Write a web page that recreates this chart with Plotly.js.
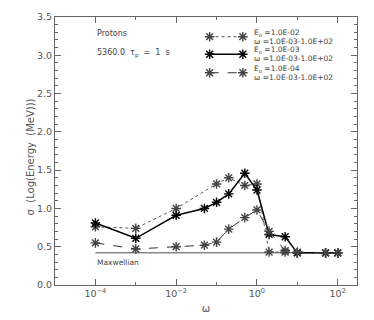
<!DOCTYPE html>
<html><head><meta charset="utf-8">
<script src="https://cdn.plot.ly/plotly-3.0.1.min.js"></script>
<style>html,body{margin:0;padding:0;background:#fff}#chart{width:374px;height:320px}</style>
</head><body><div id="chart"></div>
<script>
// Data
const omegaSolid  = [1e-4, 1e-3, 1e-2, 0.05, 0.1, 0.2, 0.5, 1, 2, 5, 10, 50, 100];
const sigmaE3     = [0.81, 0.61, 0.91, 1.00, 1.08, 1.19, 1.46, 1.24, 0.66, 0.63, 0.42, 0.42, 0.42];
const omegaDotted = [1e-4, 1e-3, 1e-2, 0.1, 0.2, 0.5, 1, 2, 5, 10, 50, 100];
const sigmaE2     = [0.76, 0.74, 1.00, 1.32, 1.40, 1.30, 1.32, 0.43, 0.43, 0.42, 0.42, 0.42];
const omegaDashed = [1e-4, 1e-3, 1e-2, 0.05, 0.1, 0.2, 0.5, 1, 2, 5, 10, 50, 100];
const sigmaE4     = [0.55, 0.47, 0.50, 0.52, 0.56, 0.73, 0.88, 0.98, 0.70, 0.45, 0.43, 0.42, 0.42];
const maxwellX    = [1e-4, 100];
const maxwellY    = [0.42, 0.42];
const legendLabels = [
  ["E<sub>o</sub> =1.0E-02", "ω =1.0E-03-1.0E+02"],
  ["E<sub>o</sub> =1.0E-03", "ω =1.0E-03-1.0E+02"],
  ["E<sub>o</sub> =1.0E-04", "ω =1.0E-03-1.0E+02"]
];
const xTickVals = [1e-4, 1e-2, 1, 100];
const xTickText = ["10<sup>−4</sup>", "10<sup>−2</sup>", "10<sup>0</sup>", "10<sup>2</sup>"];
const xMinorVals = [1e-5, 1e-3, 1e-1, 10];

const F = "DejaVu Sans";
const styles = [
  {dash: 'dot',  color: '#555', mcolor: '#444', width: 1},
  {dash: 'solid',color: '#000', mcolor: '#000', width: 1.5},
  {dash: 'dash', color: '#333', mcolor: '#444', width: 1}
];
function mk(c){return {symbol:'asterisk-open', size:8, line:{color:c, width:1.4}, color:c};}

const traces = [
  {x: maxwellX, y: maxwellY, mode:'lines', line:{color:'#888', width:1.5}, hoverinfo:'skip'},
  {x: omegaDotted, y: sigmaE2, mode:'lines+markers', line:{color:styles[0].color, dash:'dot', width:1}, marker:mk(styles[0].mcolor)},
  {x: omegaSolid, y: sigmaE3, mode:'lines+markers', line:{color:styles[1].color, width:1.5}, marker:mk(styles[1].mcolor)},
  {x: omegaDashed, y: sigmaE4, mode:'lines+markers', line:{color:styles[2].color, dash:'dash', width:1}, marker:mk(styles[2].mcolor)}
];

// manual legend samples (overlay axes in unit coordinates)
const legRowsY = [0.9265, 0.861, 0.792];
const legX = [0.512, 0.622];
const annotations = [];
const PX = 1/268;
legRowsY.forEach((yy, i) => {
  const s = styles[i];
  traces.push({x: legX, y: [yy, yy], xaxis:'x2', yaxis:'y2', mode:'lines+markers',
    line:{color:s.color, dash:s.dash, width:s.width}, marker:mk(s.mcolor), hoverinfo:'skip'});
  annotations.push({xref:'paper', yref:'paper', x:0.652, y:yy+3.9*PX, xanchor:'left', yanchor:'middle',
    text:legendLabels[i][0], showarrow:false, font:{family:F, size:7.5, color:'#444'}});
  annotations.push({xref:'paper', yref:'paper', x:0.652, y:yy-4.6*PX, xanchor:'left', yanchor:'middle',
    text:legendLabels[i][1], showarrow:false, font:{family:F, size:7.5, color:'#444'}});
});
annotations.push({xref:'x', yref:'paper', x:-4, y:0.9366, xanchor:'left', yanchor:'middle',
  text:'Protons', showarrow:false, font:{family:F, size:8, color:'#444'}});
annotations.push({xref:'x', yref:'paper', x:-4, y:0.8646, xanchor:'left', yanchor:'middle',
  text:'5360.0  τ<sub>p</sub>  =  1  s', showarrow:false, font:{family:F, size:8, color:'#444'}});
annotations.push({xref:'x', yref:'paper', x:-4, y:0.0858, xanchor:'left', yanchor:'middle',
  text:'Maxwellian', showarrow:false, font:{family:F, size:7.5, color:'#444'}});
annotations.push({xref:'paper', yref:'paper', x:-0.081, y:0.478, xanchor:'center', yanchor:'middle',
  textangle:-90, text:'σ  (Log(Energy  (MeV)))', showarrow:false, font:{family:F, size:10, color:'#555'}});

const layout = {
  width:374, height:320, showlegend:false,
  margin:{l:54.5, r:17, t:17, b:35},
  paper_bgcolor:'#fff', plot_bgcolor:'#fff',
  font:{family:F, size:10, color:'#555'},
  xaxis:{type:'log', range:[-5, Math.log10(300)], tickmode:'array', tickvals:xTickVals, ticktext:xTickText,
    ticks:'inside', ticklen:6, tickcolor:'#666', showline:true, linecolor:'#666', linewidth:1, mirror:'ticks',
    showgrid:false, zeroline:false, tickfont:{family:F, size:9.5, color:'#555'},
    minor:{tickmode:'array', tickvals:xMinorVals, ticks:'inside', ticklen:3, tickcolor:'#666', showgrid:false},
    title:{text:'ω', font:{family:F, size:10, color:'#555'}, standoff:6}},
  yaxis:{range:[0, 3.5], dtick:0.5, tickformat:'.1f', ticks:'inside', ticklen:6, tickcolor:'#666',
    showline:true, linecolor:'#666', linewidth:1, mirror:'ticks', showgrid:false, zeroline:false,
    tickfont:{family:F, size:9.5, color:'#555'},
    minor:{dtick:0.1, ticks:'inside', ticklen:3, tickcolor:'#666', showgrid:false}},
  xaxis2:{overlaying:'x', range:[0,1], visible:false, fixedrange:true},
  yaxis2:{overlaying:'y', range:[0,1], visible:false, fixedrange:true},
  annotations: annotations
};
Plotly.newPlot('chart', traces, layout, {staticPlot:true, displayModeBar:false});
</script></body></html>
